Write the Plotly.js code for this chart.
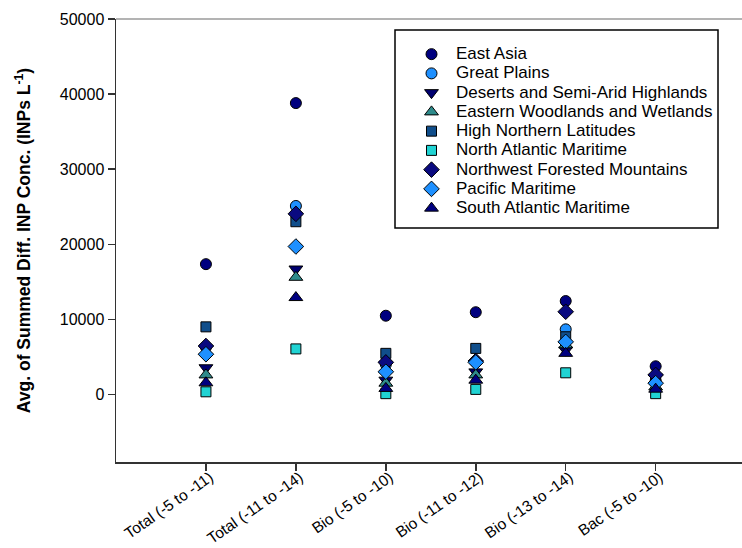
<!DOCTYPE html>
<html>
<head>
<meta charset="utf-8">
<script src="https://cdn.plot.ly/plotly-3.0.1.min.js"></script>
<style>html,body{margin:0;padding:0;background:#fff;overflow:hidden}#chart{width:742px;height:548px}</style>
</head>
<body>
<div id="chart"></div>
<script>
var categories = ["Total (-5 to -11)", "Total (-11 to -14)", "Bio (-5 to -10)", "Bio (-11 to -12)", "Bio (-13 to -14)", "Bac (-5 to -10)"];

var eastAsia       = [17350, 38800, 10480, 10950, 12440, 3750];
var greatPlains    = [6300, 25100, 4000, 4300, 8670, 1800];
var desertsSAH     = [3550, 16700, 1900, 3000, 5900, 2300];
var easternWW      = [2600, 15600, 1500, 2600, 6600, 1000];
var highNorthern   = [9000, 23000, 5470, 6130, 7680, 2000];
var northAtlantic  = [350, 6060, 100, 670, 2880, 100];
var northwestFM    = [6450, 24050, 4270, 4450, 11010, 2600];
var pacificM       = [5350, 19700, 3020, 4270, 7000, 1500];
var southAtlantic  = [1550, 12900, 800, 1900, 5470, 700];

var seriesNames  = ["East Asia", "Great Plains", "Deserts and Semi-Arid Highlands", "Eastern Woodlands and Wetlands", "High Northern Latitudes", "North Atlantic Maritime", "Northwest Forested Mountains", "Pacific Maritime", "South Atlantic Maritime"];
var seriesValues = [eastAsia, greatPlains, desertsSAH, easternWW, highNorthern, northAtlantic, northwestFM, pacificM, southAtlantic];
var seriesSymbols = ["circle", "circle", "triangle-down", "triangle-up", "square", "square", "diamond", "diamond", "triangle-up"];
var seriesColors  = ["#00007f", "#1e90ff", "#000070", "#2e8b8b", "#104e8b", "#20d3d3", "#0a0a80", "#1e90ff", "#000080"];
var seriesSizes   = [11, 11, 12, 12, 10, 10, 12, 12, 12];

var xIdx = categories.map(function (c, i) { return i; });

var traces = seriesNames.map(function (name, k) {
  return {
    type: "scatter",
    mode: "markers",
    name: '<span style="font-size:17px">' + name + '</span>',
    x: xIdx,
    y: seriesValues[k],
    marker: {
      symbol: seriesSymbols[k],
      color: seriesColors[k],
      size: seriesSizes[k],
      line: {color: "#000000", width: 1}
    },
    hoverinfo: "y"
  };
});

var W = 742, H = 548, L = 116, R = 0, T = 19, B = 86;
function px2x(p) { return (p - L) / (W - L - R); }
function px2y(q) { return (H - B - q) / (H - T - B); }

var layout = {
  width: W,
  height: H,
  margin: {l: L, r: R, t: T, b: B},
  paper_bgcolor: "#ffffff",
  plot_bgcolor: "#ffffff",
  font: {family: "Arial, 'Liberation Sans', sans-serif", color: "#000000"},
  showlegend: true,
  legend: {
    x: px2x(407), xanchor: "left",
    y: px2y(39.5), yanchor: "top",
    bgcolor: "rgba(0,0,0,0)",
    borderwidth: 0,
    itemwidth: 39,
    font: {size: 12.5, family: "Arial, 'Liberation Sans', sans-serif", color: "#000000"},
    tracegroupgap: 0
  },
  xaxis: {
    range: [-1, 5.96],
    tickmode: "array",
    tickvals: xIdx,
    ticktext: categories,
    tickangle: -35,
    ticklabelstandoff: -8,
    ticklabelshift: 4,
    ticks: "outside",
    ticklen: 7,
    tickwidth: 1.5,
    tickcolor: "#333333",
    showline: true,
    linecolor: "#333333",
    linewidth: 1.5,
    showgrid: false,
    zeroline: false,
    tickfont: {size: 15.5, family: "Arial, 'Liberation Sans', sans-serif", color: "#000000"}
  },
  yaxis: {
    range: [-9000, 50000],
    tickmode: "array",
    tickvals: [0, 10000, 20000, 30000, 40000, 50000],
    ticktext: ["0", "10000", "20000", "30000", "40000", "50000"],
    ticks: "outside",
    ticklen: 7,
    tickwidth: 1.5,
    tickcolor: "#333333",
    showline: true,
    linecolor: "#333333",
    linewidth: 1.5,
    showgrid: false,
    zeroline: false,
    tickfont: {size: 16, family: "Arial, 'Liberation Sans', sans-serif", color: "#000000"},
    title: {
      text: "<b>Avg. of Summed Diff. INP Conc. (INPs L<sup>-1</sup>)</b>",
      font: {size: 17.5, family: "Arial, 'Liberation Sans', sans-serif", color: "#000000"},
      standoff: 24
    }
  },
  shapes: [
    {type: "line", xref: "paper", yref: "paper", x0: 0, x1: 1, y0: 1, y1: 1,
     line: {color: "#9a9a9a", width: 1.5}},
    {type: "rect", xref: "paper", yref: "paper",
     x0: px2x(395), x1: px2x(718), y0: px2y(228), y1: px2y(30),
     line: {color: "#000000", width: 1.5}, fillcolor: "rgba(0,0,0,0)"}
  ]
};

Plotly.newPlot("chart", traces, layout, {displayModeBar: false, staticPlot: true});
</script>
</body>
</html>
